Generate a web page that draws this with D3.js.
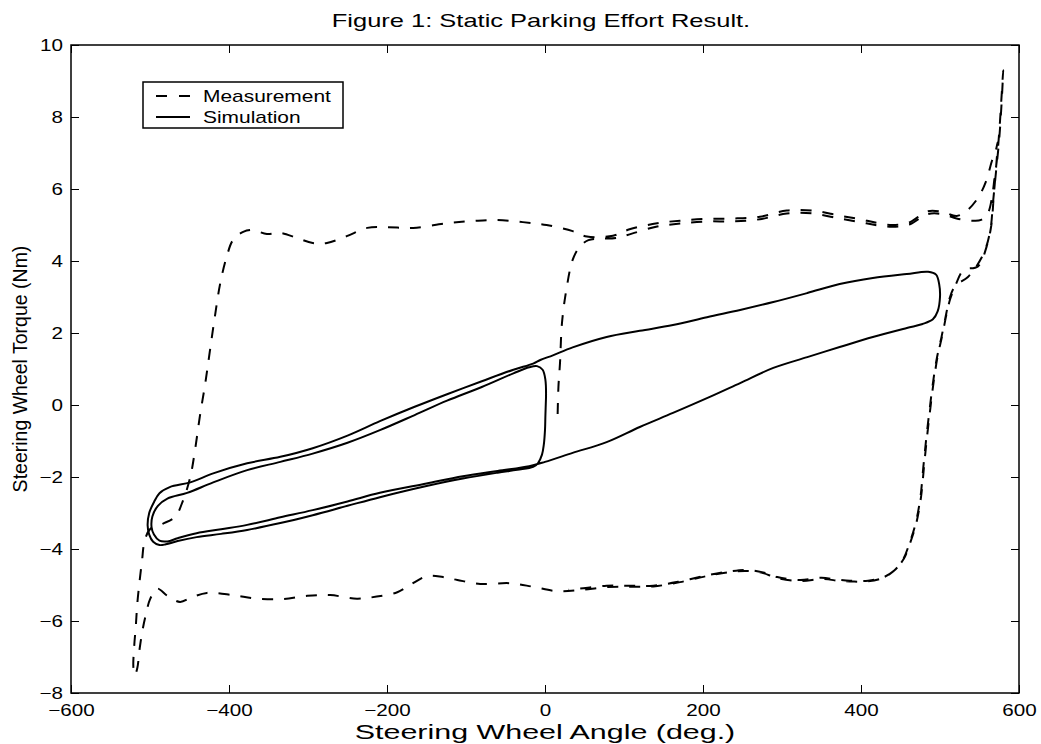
<!DOCTYPE html>
<html>
<head>
<meta charset="utf-8">
<script src="https://cdn.jsdelivr.net/npm/d3@7"></script>
<style>
  body { margin: 0; background: #fff; }
  svg { display: block; }
  text { font-family: "Liberation Sans", Arial, Helvetica, sans-serif; fill: #000; }
  .axis path, .axis line { stroke: #000; stroke-width: 1; }
  .domain { display: none; }
</style>
</head>
<body>
<div id="chart"></div>
<script>
// axis settings
const xDomain = [-600, 600];
const yDomain = [-8, 10];
const xTicks = [-600, -400, -200, 0, 200, 400, 600];
const yTicks = [-8, -6, -4, -2, 0, 2, 4, 6, 8, 10];

const titleText = "Figure 1: Static Parking Effort Result.";
const xLabel = "Steering Wheel Angle (deg.)";
const yLabel = "Steering Wheel Torque (Nm)";
const seriesNames = ["Measurement", "Simulation"];

const measAngle = [
  16, 17, 19, 21.5, 27, 35, 44, 55, 70, 90, 110, 142, 171, 205, 238, 272, 306, 339, 373, 399, 418, 440, 462, 484, 504, 521, 540, 552, 561, 566, 569, 572, 574, 576, 578, 580,
  578, 575, 571, 567, 564, 557, 546, 535, 519, 512, 508, 502, 496, 491, 487, 483, 479, 475, 469, 462, 453, 441, 428, 408, 386, 373, 352, 323, 294, 276, 256, 234, 205, 171, 137, 108, 78, 44, 15, -15, -44, -82, -111, -129, -149, -171, -187, -213, -238, -272, -301, -332, -365, -395, -428, -448, -462, -478, -491, -500, -505, -509, -513, -516, -519,
  -521, -520, -518, -516, -513, -510, -507, -500, -484, -468, -458, -449, -443, -437, -430, -424, -418, -411, -403, -395, -382, -370, -352, -335, -314, -294, -276, -251, -225, -200, -167, -124, -91, -61, -28, 2, 35, 53, 86,
  107, 142, 171, 205, 238, 272, 306, 339, 373, 399, 418, 440, 462, 484, 504, 521, 534, 548, 558, 566, 571, 573,
  571, 568, 565, 559, 548, 530, 520, 513, 509, 503, 497, 492, 488, 484, 480, 476, 470, 463, 454, 442, 429, 409, 386, 370, 350, 323, 294, 276, 256, 234, 205, 171, 137, 108, 78, 44, 30
];
const measTorque = [
  -0.25, 0.5, 1.17, 2.28, 3.2, 4.03, 4.4, 4.58, 4.62, 4.64, 4.76, 4.96, 5.04, 5.1, 5.1, 5.16, 5.32, 5.32, 5.18, 5.08, 5.0, 4.95, 5.02, 5.3, 5.3, 5.18, 5.12, 5.14, 5.35, 5.8, 6.3, 6.8, 7.3, 7.9, 8.6, 9.3,
  8.4, 7.4, 6.5, 5.6, 4.9, 4.3, 3.85, 3.55, 3.3, 2.95, 2.55, 1.9, 1.3, 0.6, -0.1, -0.85, -1.7, -2.6, -3.3, -3.8, -4.3, -4.62, -4.8, -4.9, -4.9, -4.89, -4.83, -4.89, -4.81, -4.67, -4.61, -4.64, -4.75, -4.92, -5.04, -5.05, -5.06, -5.14, -5.17, -5.05, -4.95, -4.97, -4.86, -4.78, -4.75, -5.0, -5.2, -5.32, -5.38, -5.28, -5.3, -5.39, -5.38, -5.28, -5.22, -5.35, -5.47, -5.3, -5.1, -5.4, -5.8, -6.2, -6.75, -7.3, -7.5,
  -7.3, -6.7, -6.15, -5.5, -4.86, -4.3, -3.8, -3.45, -3.3, -3.1, -2.64, -2.0, -1.25, -0.33, 0.61, 1.53, 2.44, 3.39, 4.11, 4.58, 4.81, 4.86, 4.75, 4.78, 4.64, 4.5, 4.5, 4.69, 4.92, 4.94, 4.92, 5.05, 5.11, 5.14, 5.08, 5.0, 4.83, 4.68, 4.7,
  4.88, 5.05, 5.12, 5.17, 5.18, 5.23, 5.4, 5.4, 5.26, 5.16, 5.07, 5.0, 5.08, 5.38, 5.36, 5.25, 5.4, 5.75, 6.2, 6.8, 7.1, 7.3,
  6.6, 5.8, 5.0, 4.4, 3.85, 3.75, 3.35, 2.95, 2.6, 1.95, 1.35, 0.65, -0.05, -0.8, -1.65, -2.55, -3.28, -3.78, -4.28, -4.6, -4.78, -4.88, -4.88, -4.85, -4.8, -4.86, -4.78, -4.65, -4.58, -4.62, -4.73, -4.9, -5.02, -5.02, -5.02, -5.1, -5.13
];

// simulation (solid)
const simAngle = [
  1.3, 0.5, 0, -1.5, -3.8, -9, -15, -35, -60, -104, -150, -209, -250, -294, -335, -377, -410, -441, -465, -480, -488, -496, -501, -503, -501, -495, -488, -475, -449, -420, -377, -335, -294, -250, -209, -165, -124, -80, -40, -15, -6, 10, 35, 78, 120, 162, 205, 247, 289, 332, 373, 415, 458, 485, 495, 499, 500, 497, 491, 478, 458, 415, 373, 332, 289, 247, 205, 162, 120, 78, 35, 0, -20, -60, -104, -150, -209, -250, -294, -335, -377, -410, -441, -465, -478, -488, -495, -498, -497, -490, -478, -453, -420, -377, -335, -294, -250, -209, -165, -124, -80, -40, -20, -10, -3, 0.5, 1.3
];
const simTorque = [
  0.22, -0.3, -0.69, -1.1, -1.38, -1.62, -1.72, -1.8, -1.88, -2.04, -2.25, -2.56, -2.8, -3.06, -3.28, -3.47, -3.58, -3.67, -3.78, -3.87, -3.89, -3.8, -3.6, -3.35, -3.0, -2.7, -2.45, -2.28, -2.15, -1.9, -1.62, -1.44, -1.2, -0.85, -0.45, -0.05, 0.3, 0.66, 0.98, 1.15, 1.25, 1.38, 1.6, 1.89, 2.06, 2.22, 2.44, 2.64, 2.86, 3.11, 3.36, 3.53, 3.64, 3.7, 3.62, 3.35, 3.0, 2.6, 2.38, 2.25, 2.14, 1.89, 1.61, 1.33, 1.03, 0.61, 0.19, -0.22, -0.61, -1.03, -1.33, -1.58, -1.7, -1.83, -1.98, -2.18, -2.44, -2.68, -2.92, -3.12, -3.33, -3.45, -3.56, -3.7, -3.79, -3.77, -3.6, -3.4, -3.1, -2.8, -2.6, -2.44, -2.15, -1.81, -1.58, -1.35, -1.05, -0.7, -0.28, 0.12, 0.5, 0.88, 1.05, 1.08, 0.98, 0.7, 0.22
];

const width = 1041, height = 744;
const margin = { top: 45, right: 22, bottom: 51, left: 71 };
const plotW = width - margin.left - margin.right;
const plotH = height - margin.top - margin.bottom;

// horizontal stretch of the lettering, as in the picture
function stretch(sel, k) {
  sel.each(function() {
    const w = this.getComputedTextLength();
    d3.select(this).attr('textLength', w * k).attr('lengthAdjust', 'spacingAndGlyphs');
  });
}

const svg = d3.select('#chart').append('svg')
  .attr('width', width)
  .attr('height', height);

const plot = svg.append('g')
  .attr('transform', `translate(${margin.left},${margin.top})`);

const x = d3.scaleLinear().domain(xDomain).range([0, plotW]);
const y = d3.scaleLinear().domain(yDomain).range([plotH, 0]);

const line = d3.line()
  .x(d => x(d[0]))
  .y(d => y(d[1]))
  .curve(d3.curveCatmullRom.alpha(0.5));

const meas = d3.zip(measAngle, measTorque);
const sim = d3.zip(simAngle, simTorque);

plot.append('path')
  .datum(meas)
  .attr('d', line)
  .attr('fill', 'none')
  .attr('stroke', '#000')
  .attr('stroke-width', 2)
  .attr('stroke-dasharray', '11,11');

plot.append('path')
  .datum(sim)
  .attr('d', line)
  .attr('fill', 'none')
  .attr('stroke', '#000')
  .attr('stroke-width', 2);

// axes, ticks pointing inwards on all four sides
const tickLen = 8;
const xb = plot.append('g').attr('class', 'x axis')
  .attr('transform', `translate(0,${plotH})`)
  .call(d3.axisBottom(x).tickValues(xTicks).tickSizeInner(-tickLen).tickSizeOuter(0).tickPadding(11));
const yl = plot.append('g').attr('class', 'y axis')
  .call(d3.axisLeft(y).tickValues(yTicks).tickSizeInner(-tickLen).tickSizeOuter(0).tickPadding(8));
plot.append('g').attr('class', 'axis')
  .call(d3.axisTop(x).tickValues(xTicks).tickSizeInner(-tickLen).tickSizeOuter(0).tickFormat(''));
plot.append('g').attr('class', 'axis')
  .attr('transform', `translate(${plotW},0)`)
  .call(d3.axisRight(y).tickValues(yTicks).tickSizeInner(-tickLen).tickSizeOuter(0).tickFormat(''));

plot.selectAll('.axis text')
  .style('font-size', '16.5px')
  .attr('fill', '#000');
stretch(xb.selectAll('text'), 1.25);
stretch(yl.selectAll('text'), 1.25);

plot.append('rect')
  .attr('width', plotW)
  .attr('height', plotH)
  .attr('fill', 'none')
  .attr('stroke', '#000')
  .attr('stroke-width', 1.5);

// titles
const t = svg.append('text')
  .attr('x', margin.left + plotW / 2 - 4)
  .attr('y', 27)
  .attr('text-anchor', 'middle')
  .style('font-size', '19px')
  .text(titleText);
stretch(t, 1.34);

const xt = svg.append('text')
  .attr('x', margin.left + plotW / 2)
  .attr('y', 739)
  .attr('text-anchor', 'middle')
  .style('font-size', '19.5px')
  .text(xLabel);
stretch(xt, 1.56);

svg.append('text')
  .attr('transform', `translate(27,${margin.top + plotH / 2}) rotate(-90)`)
  .attr('text-anchor', 'middle')
  .style('font-size', '19.5px')
  .text(yLabel);

// legend
const lg = svg.append('g').attr('transform', 'translate(143,82)');
lg.append('rect')
  .attr('width', 200)
  .attr('height', 46)
  .attr('fill', '#fff')
  .attr('stroke', '#000')
  .attr('stroke-width', 1.5);
seriesNames.forEach((name, i) => {
  const yy = 14 + i * 21;
  lg.append('line')
    .attr('x1', 13).attr('x2', 47)
    .attr('y1', yy).attr('y2', yy)
    .attr('stroke', '#000')
    .attr('stroke-width', 2)
    .attr('stroke-dasharray', i === 0 ? '11,12' : null);
  const lt = lg.append('text')
    .attr('x', 60)
    .attr('y', yy + 6)
    .style('font-size', '17px')
    .text(name);
  stretch(lt, 1.23);
});
</script>
</body>
</html>
